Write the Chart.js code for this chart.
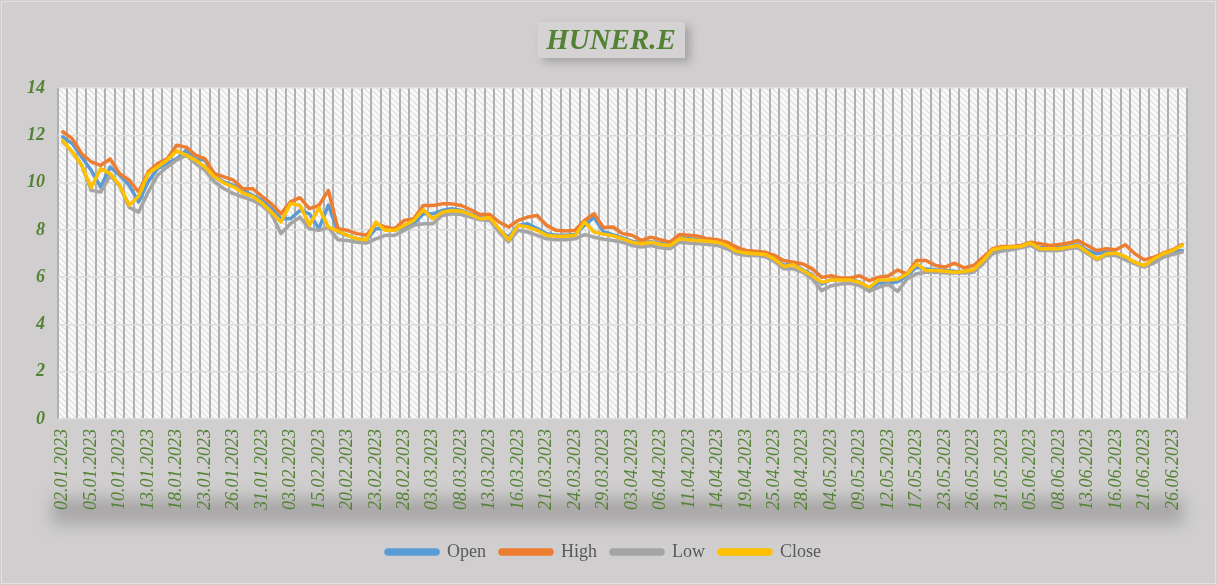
<!DOCTYPE html>
<html>
<head>
<meta charset="utf-8">
<script src="https://cdn.jsdelivr.net/npm/chart.js@4.4.1/dist/chart.umd.min.js"></script>
<style>
  html, body { margin: 0; padding: 0; background: #d0cece; }
  canvas { display: block; }
</style>
</head>
<body>
<canvas id="stockChart" width="1217" height="585"></canvas>
<script>
// trading days, 2023
const dates = [
  '02.01.2023','03.01.2023','04.01.2023','05.01.2023','06.01.2023','09.01.2023','10.01.2023','11.01.2023','12.01.2023','13.01.2023',
  '16.01.2023','17.01.2023','18.01.2023','19.01.2023','20.01.2023','23.01.2023','24.01.2023','25.01.2023','26.01.2023','27.01.2023',
  '30.01.2023','31.01.2023','01.02.2023','02.02.2023','03.02.2023','06.02.2023','07.02.2023','15.02.2023','16.02.2023','17.02.2023',
  '20.02.2023','21.02.2023','22.02.2023','23.02.2023','24.02.2023','27.02.2023','28.02.2023','01.03.2023','02.03.2023','03.03.2023',
  '06.03.2023','07.03.2023','08.03.2023','09.03.2023','10.03.2023','13.03.2023','14.03.2023','15.03.2023','16.03.2023','17.03.2023',
  '20.03.2023','21.03.2023','22.03.2023','23.03.2023','24.03.2023','27.03.2023','28.03.2023','29.03.2023','30.03.2023','31.03.2023',
  '03.04.2023','04.04.2023','05.04.2023','06.04.2023','07.04.2023','10.04.2023','11.04.2023','12.04.2023','13.04.2023','14.04.2023',
  '17.04.2023','18.04.2023','19.04.2023','20.04.2023','24.04.2023','25.04.2023','26.04.2023','27.04.2023','28.04.2023','02.05.2023',
  '03.05.2023','04.05.2023','05.05.2023','08.05.2023','09.05.2023','10.05.2023','11.05.2023','12.05.2023','15.05.2023','16.05.2023',
  '17.05.2023','18.05.2023','22.05.2023','23.05.2023','24.05.2023','25.05.2023','26.05.2023','29.05.2023','30.05.2023','31.05.2023',
  '01.06.2023','02.06.2023','05.06.2023','06.06.2023','07.06.2023','08.06.2023','09.06.2023','12.06.2023','13.06.2023','14.06.2023',
  '15.06.2023','16.06.2023','19.06.2023','20.06.2023','21.06.2023','22.06.2023','23.06.2023','26.06.2023','27.06.2023'
];

const openVals = [
  11.93, 11.65, 11.08, 10.52, 9.81, 10.66, 10.31, 9.88, 9.18, 10.03,
  10.59, 10.81, 11.00, 11.37, 11.00, 10.95, 10.24, 10.03, 9.88, 9.67,
  9.46, 9.25, 8.90, 8.47, 8.47, 8.82, 8.68, 8.05, 9.05, 7.91,
  7.77, 7.62, 7.58, 8.05, 8.05, 7.98, 8.12, 8.26, 8.68, 8.68,
  8.82, 8.89, 8.82, 8.68, 8.51, 8.47, 7.98, 7.69, 8.19, 8.26,
  8.05, 7.84, 7.77, 7.77, 7.80, 8.19, 8.54, 7.91, 7.80, 7.66,
  7.52, 7.45, 7.50, 7.42, 7.38, 7.66, 7.62, 7.58, 7.55, 7.52,
  7.38, 7.14, 7.05, 7.02, 6.99, 6.80, 6.50, 6.56, 6.31, 6.10,
  5.71, 5.90, 5.90, 5.90, 5.80, 5.50, 5.75, 5.75, 5.80, 6.07,
  6.42, 6.35, 6.31, 6.28, 6.25, 6.24, 6.28, 6.63, 7.06, 7.20,
  7.24, 7.30, 7.41, 7.24, 7.24, 7.24, 7.30, 7.38, 7.13, 6.99,
  7.06, 7.02, 6.84, 6.63, 6.49, 6.73, 6.96, 7.06, 7.13
];

const highVals = [
  12.15, 11.86, 11.22, 10.88, 10.73, 11.00, 10.38, 10.10, 9.60, 10.45,
  10.80, 11.00, 11.58, 11.50, 11.16, 11.00, 10.38, 10.24, 10.10, 9.74,
  9.74, 9.42, 9.10, 8.68, 9.18, 9.36, 8.90, 9.03, 9.67, 8.05,
  7.98, 7.84, 7.77, 8.26, 8.12, 8.05, 8.40, 8.47, 9.03, 9.03,
  9.10, 9.10, 9.03, 8.85, 8.65, 8.65, 8.33, 8.12, 8.40, 8.54,
  8.61, 8.19, 7.98, 7.95, 7.98, 8.40, 8.68, 8.10, 8.12, 7.84,
  7.77, 7.55, 7.69, 7.58, 7.48, 7.80, 7.77, 7.73, 7.62, 7.58,
  7.48, 7.27, 7.13, 7.10, 7.06, 6.92, 6.70, 6.63, 6.56, 6.35,
  5.99, 6.06, 5.96, 5.96, 6.06, 5.85, 6.00, 6.05, 6.30, 6.14,
  6.70, 6.70, 6.49, 6.42, 6.59, 6.39, 6.49, 6.84, 7.20, 7.30,
  7.30, 7.34, 7.48, 7.41, 7.34, 7.38, 7.44, 7.55, 7.34, 7.13,
  7.20, 7.16, 7.37, 6.99, 6.73, 6.84, 7.02, 7.16, 7.38
];

const lowVals = [
  11.72, 11.30, 10.73, 9.67, 9.60, 10.30, 9.85, 8.95, 8.75, 9.60,
  10.31, 10.66, 10.95, 11.16, 10.81, 10.52, 10.03, 9.74, 9.53, 9.39,
  9.25, 9.03, 8.68, 7.84, 8.26, 8.54, 8.05, 7.98, 8.10, 7.58,
  7.55, 7.48, 7.44, 7.62, 7.77, 7.77, 7.98, 8.19, 8.26, 8.26,
  8.61, 8.68, 8.65, 8.54, 8.43, 8.40, 7.91, 7.50, 7.98, 7.91,
  7.77, 7.62, 7.58, 7.58, 7.62, 7.80, 7.69, 7.60, 7.55, 7.48,
  7.34, 7.27, 7.34, 7.24, 7.20, 7.48, 7.44, 7.41, 7.38, 7.34,
  7.20, 6.99, 6.92, 6.92, 6.87, 6.68, 6.35, 6.35, 6.21, 5.92,
  5.43, 5.64, 5.71, 5.74, 5.64, 5.40, 5.57, 5.70, 5.40, 5.92,
  6.14, 6.21, 6.21, 6.17, 6.17, 6.17, 6.21, 6.56, 6.99, 7.10,
  7.16, 7.24, 7.34, 7.13, 7.13, 7.13, 7.20, 7.24, 6.99, 6.73,
  6.92, 6.92, 6.73, 6.56, 6.42, 6.59, 6.84, 6.96, 7.06
];

const closeVals = [
  11.77, 11.30, 10.73, 9.79, 10.59, 10.38, 9.89, 9.04, 9.42, 10.38,
  10.66, 10.95, 11.34, 11.16, 10.95, 10.66, 10.24, 9.98, 9.82, 9.56,
  9.42, 9.14, 8.75, 8.33, 9.11, 9.04, 8.19, 8.93, 8.12, 7.95,
  7.77, 7.62, 7.58, 8.33, 7.98, 7.98, 8.19, 8.40, 8.85, 8.47,
  8.75, 8.82, 8.79, 8.65, 8.47, 8.51, 8.05, 7.58, 8.19, 8.12,
  7.98, 7.77, 7.73, 7.73, 7.77, 8.33, 7.91, 7.82, 7.75, 7.62,
  7.48, 7.41, 7.48, 7.38, 7.34, 7.62, 7.58, 7.55, 7.52, 7.48,
  7.34, 7.10, 7.02, 6.99, 6.96, 6.77, 6.45, 6.53, 6.28, 6.06,
  5.78, 5.88, 5.88, 5.88, 5.78, 5.57, 5.88, 5.88, 5.92, 6.13,
  6.56, 6.28, 6.28, 6.25, 6.21, 6.24, 6.31, 6.70, 7.16, 7.24,
  7.27, 7.30, 7.45, 7.20, 7.20, 7.20, 7.27, 7.34, 7.06, 6.77,
  6.99, 7.02, 6.87, 6.63, 6.49, 6.77, 6.99, 7.13, 7.34
];

const yTicks = [0, 2, 4, 6, 8, 10, 12, 14];
const labelStep = 3; // every third date is written under the axis

const green = '#548235';
const serif = '"Liberation Serif", "Times New Roman", serif';

// hatched plot background
function makeHatch() {
  const c = document.createElement('canvas');
  c.width = 6; c.height = 6;
  const g = c.getContext('2d');
  g.fillStyle = '#fafafa';
  g.fillRect(0, 0, 6, 6);
  g.strokeStyle = '#dcdcdc';
  g.lineWidth = 1.1;
  g.beginPath();
  g.moveTo(-1, -1); g.lineTo(7, 7);
  g.moveTo(-1, 5); g.lineTo(1, 7);
  g.moveTo(5, -1); g.lineTo(7, 1);
  g.stroke();
  return g.createPattern(c, 'repeat');
}

const backdrop = {
  id: 'backdrop',
  beforeDraw(chart) {
    const ctx = chart.ctx;
    const area = chart.chartArea;
    ctx.save();
    ctx.fillStyle = '#d0cece';
    ctx.fillRect(0, 0, chart.width, chart.height);
    ctx.strokeStyle = '#e2e0e0';
    ctx.lineWidth = 1;
    ctx.strokeRect(1.5, 1.5, chart.width - 3, chart.height - 3);

    // title box with soft shadow
    ctx.shadowColor = 'rgba(0,0,0,0.22)';
    ctx.shadowBlur = 9;
    ctx.shadowOffsetX = 5;
    ctx.shadowOffsetY = 4;
    ctx.fillStyle = '#d4d2d2';
    ctx.fillRect(538, 22, 147, 36);
    ctx.shadowColor = 'transparent';
    ctx.fillStyle = green;
    ctx.font = 'bold italic 29px ' + serif;
    ctx.textAlign = 'center';
    ctx.textBaseline = 'alphabetic';
    ctx.fillText('HUNER.E', 611, 49);

    // blurred shadow band under the date labels
    ctx.filter = 'blur(8px)';
    ctx.fillStyle = '#a8a6a6';
    ctx.fillRect(area.left - 6, 498, area.right - area.left + 2, 26);
    ctx.filter = 'none';

    ctx.fillStyle = makeHatch();
    ctx.fillRect(area.left, area.top, area.right - area.left, area.bottom - area.top);
    ctx.restore();
  }
};

function series(label, data, color) {
  return {
    label: label,
    data: data,
    borderColor: color,
    backgroundColor: color,
    borderWidth: 3.5,
    borderJoinStyle: 'round',
    borderCapStyle: 'round',
    pointRadius: 0,
    tension: 0
  };
}

const datasets = [
  series('Open', openVals, '#5b9bd5'),
  series('High', highVals, '#ed7d31'),
  series('Low', lowVals, '#a5a5a5'),
  series('Close', closeVals, '#ffc000')
];
// later series are painted on top, like the original
datasets.forEach((d, i) => { d.order = datasets.length - i; });

new Chart(document.getElementById('stockChart'), {
  type: 'line',
  data: { labels: dates, datasets: datasets },
  options: {
    responsive: false,
    animation: false,
    devicePixelRatio: 1,
    layout: { padding: { left: 20, right: 30, top: 88, bottom: 14 } },
    scales: {
      x: {
        offset: true,
        grid: { offset: true, color: '#b0b0b0', lineWidth: 2, drawTicks: false },
        border: { display: false },
        ticks: {
          autoSkip: false,
          minRotation: 90,
          maxRotation: 90,
          padding: 10,
          color: green,
          font: { family: serif, style: 'italic', size: 18 },
          callback: (v, i) => (i % labelStep === 0 ? dates[i] : '')
        },
        afterFit: s => { s.height = 110; }
      },
      y: {
        min: yTicks[0],
        max: yTicks[yTicks.length - 1],
        afterBuildTicks: s => { s.ticks = yTicks.map(v => ({ value: v })); },
        grid: { color: '#dcdcdc', lineWidth: 1.5, drawTicks: false },
        border: { display: false },
        ticks: {
          padding: 13,
          color: green,
          font: { family: serif, style: 'italic', weight: 'bold', size: 18 }
        },
        afterFit: s => { s.width = 38; }
      }
    },
    plugins: {
      title: { display: false },
      tooltip: { enabled: false },
      legend: {
        position: 'bottom',
        labels: {
          boxWidth: 52,
          boxHeight: 4,
          useBorderRadius: true,
          borderRadius: 2,
          padding: 14,
          color: '#595959',
          font: { family: serif, size: 18 },
          sort: (a, b) => a.datasetIndex - b.datasetIndex
        }
      }
    }
  },
  plugins: [backdrop]
});
</script>
</body>
</html>
